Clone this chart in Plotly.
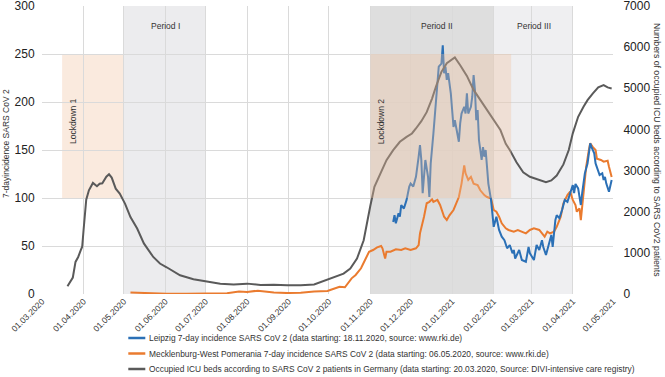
import plotly.graph_objects as go

# ---------------- data ----------------
icu_dates = ["2020-03-20","2020-03-22","2020-03-24","2020-03-26","2020-03-28","2020-03-30","2020-03-31",
             "2020-04-01","2020-04-02","2020-04-03","2020-04-05","2020-04-08","2020-04-11","2020-04-13",
             "2020-04-15","2020-04-18","2020-04-20","2020-04-22","2020-04-25","2020-04-28","2020-05-02",
             "2020-05-06","2020-05-11","2020-05-16","2020-05-23","2020-05-28","2020-06-02","2020-06-12",
             "2020-06-22","2020-07-02","2020-07-12","2020-07-22","2020-08-01","2020-08-11","2020-08-21",
             "2020-08-31","2020-09-10","2020-09-20","2020-09-30","2020-10-03","2020-10-12","2020-10-17",
             "2020-10-22","2020-10-27","2020-10-30","2020-11-01","2020-11-04","2020-11-08","2020-11-13",
             "2020-11-18","2020-11-23","2020-11-28","2020-12-02","2020-12-05","2020-12-09","2020-12-13",
             "2020-12-17","2020-12-20","2020-12-24","2020-12-28","2021-01-03","2021-01-07","2021-01-12",
             "2021-01-17","2021-01-22","2021-01-27","2021-02-01","2021-02-06","2021-02-10","2021-02-13",
             "2021-02-18","2021-02-23","2021-02-28","2021-03-05","2021-03-09","2021-03-12","2021-03-16",
             "2021-03-20","2021-03-25","2021-03-29","2021-04-01","2021-04-05","2021-04-09","2021-04-12",
             "2021-04-16","2021-04-20","2021-04-24","2021-04-27","2021-04-30"]
icu_values = [190,300,400,780,900,1070,1150,
              1550,1960,2290,2520,2700,2620,2680,
              2690,2850,2910,2830,2560,2440,2190,
              1870,1590,1230,900,740,650,455,
              357,308,252,233,252,219,226,
              210,210,233,350,380,495,616,
              860,1306,1833,2150,2604,2900,3253,
              3496,3699,3820,3901,4023,4200,4420,
              4750,5050,5400,5610,5750,5560,5300,
              4960,4720,4470,4250,3985,3650,3500,
              3200,2960,2850,2790,2750,2720,2760,
              2880,3150,3500,3905,4307,4550,4712,
              4875,5021,5078,5021,4997]

mv_dates = ["2020-05-06","2020-05-13","2020-05-23","2020-06-02","2020-06-17","2020-07-02","2020-07-17",
            "2020-07-26","2020-08-01","2020-08-09","2020-08-14","2020-08-21","2020-08-31","2020-09-10",
            "2020-09-20","2020-09-30","2020-10-02","2020-10-06","2020-10-09","2020-10-13","2020-10-15",
            "2020-10-18","2020-10-21","2020-10-25","2020-10-28","2020-10-31","2020-11-03","2020-11-06",
            "2020-11-09","2020-11-10","2020-11-12","2020-11-13","2020-11-16","2020-11-20","2020-11-24",
            "2020-11-27","2020-12-01","2020-12-05","2020-12-07","2020-12-08","2020-12-11","2020-12-13",
            "2020-12-15","2020-12-17","2020-12-18","2020-12-21","2020-12-23","2020-12-26","2020-12-28",
            "2020-12-30","2021-01-02","2021-01-04","2021-01-06","2021-01-08","2021-01-10","2021-01-11",
            "2021-01-13","2021-01-15","2021-01-17","2021-01-20","2021-01-22","2021-01-25","2021-01-27",
            "2021-01-30","2021-02-01","2021-02-03","2021-02-05","2021-02-07","2021-02-10","2021-02-12",
            "2021-02-16","2021-02-19","2021-02-22","2021-02-25","2021-02-28","2021-03-03","2021-03-07",
            "2021-03-09","2021-03-11","2021-03-13","2021-03-15","2021-03-18","2021-03-20","2021-03-23",
            "2021-03-25","2021-03-28","2021-03-30","2021-04-01","2021-04-03","2021-04-04","2021-04-06",
            "2021-04-07","2021-04-08","2021-04-10","2021-04-11","2021-04-13","2021-04-14","2021-04-16",
            "2021-04-18","2021-04-19","2021-04-22","2021-04-24","2021-04-27","2021-04-28","2021-04-30"]
mv_values = [1.5,1.2,0.5,0.3,0.3,0.3,0.8,
             2.5,2.0,3.5,2.8,1.5,1.0,1.3,
             2.5,3.2,4.2,5.9,7.6,7.0,11.0,
             16.3,19.8,26.8,35.4,44.0,45.8,48.6,
             50.0,47.6,37.0,44.0,44.0,46.5,45.8,
             47.6,45.8,47.6,51.0,63.2,80.5,94.5,
             96.0,98.6,96.0,98.0,92.7,80.5,77.0,
             82.0,87.5,94.5,101.0,115.0,134.0,125.7,
             118.8,122.0,115.0,113.5,108.0,103.0,101.0,
             99.7,87.5,85.7,80.5,73.6,68.4,66.7,
             65.0,66.7,65.0,63.2,66.7,68.4,66.7,
             63.2,59.7,65.0,63.2,65.0,70.0,80.5,
             94.5,103.0,106.6,98.0,92.7,85.7,89.3,
             77.0,91.0,115.0,132.6,150.0,157.0,153.0,
             150.0,141.0,139.6,137.8,138.9,132.6,122.0]

lp_dates = ["2020-11-18","2020-11-19","2020-11-20","2020-11-22","2020-11-23","2020-11-24","2020-11-26",
            "2020-11-28","2020-11-30","2020-12-01","2020-12-03","2020-12-05","2020-12-07","2020-12-08",
            "2020-12-09","2020-12-10","2020-12-12","2020-12-14","2020-12-15","2020-12-16","2020-12-18",
            "2020-12-19","2020-12-21","2020-12-22","2020-12-24","2020-12-25","2020-12-26","2020-12-27",
            "2020-12-28","2020-12-29","2020-12-31","2021-01-01","2021-01-02","2021-01-03","2021-01-05",
            "2021-01-06","2021-01-07","2021-01-08","2021-01-10","2021-01-11","2021-01-12","2021-01-13",
            "2021-01-15","2021-01-16","2021-01-17","2021-01-18","2021-01-19","2021-01-20","2021-01-21",
            "2021-01-23","2021-01-24","2021-01-25","2021-01-26","2021-01-27","2021-01-28","2021-01-30",
            "2021-01-31","2021-02-01","2021-02-03","2021-02-05","2021-02-07","2021-02-09","2021-02-11",
            "2021-02-13","2021-02-15","2021-02-16","2021-02-17","2021-02-20","2021-02-22","2021-02-25",
            "2021-02-27","2021-02-28","2021-03-03","2021-03-05","2021-03-07","2021-03-09","2021-03-10",
            "2021-03-12","2021-03-14","2021-03-16","2021-03-17","2021-03-19","2021-03-20","2021-03-22",
            "2021-03-24","2021-03-26","2021-03-28","2021-03-30","2021-04-01","2021-04-02","2021-04-03",
            "2021-04-05","2021-04-06","2021-04-07","2021-04-08","2021-04-09","2021-04-10","2021-04-12",
            "2021-04-13","2021-04-14","2021-04-15","2021-04-17","2021-04-18","2021-04-20","2021-04-21",
            "2021-04-23","2021-04-24","2021-04-25","2021-04-26","2021-04-28","2021-04-30"]
lp_values = [75,82,73.6,84,80.5,92.7,89,
             98,112,115,112,122,143,155,
             139.6,105,139.6,122,101,136,167,
             185,219.5,236.8,240,259,230,236.8,
             223,230,209,185,174,181,164,
             158.6,178,188,195,188,209,188,
             195,205.5,228,212.5,181,191.7,160.4,
             139.6,153,143,150,136,115,98,
             80.5,70,80.5,66.7,59.7,56,47.6,
             51,42.4,45.8,37,45.8,35.4,33.6,
             49,42.4,35.4,51,45.8,56,49,
             40.6,51,61.5,49,77,82,79,
             87.5,98,96,105,113.5,105,114.6,
             110,101,92.7,105,115,125.7,136,
             150,157,153,146.5,136,127.4,124,
             125.7,118.8,122,115,106.6,118.8]

legend_names = ["Leipzig 7-day incidence SARS CoV 2 (data starting: 18.11.2020, source: www.rki.de)",
                "Mecklenburg-West Pomerania 7-day incidence SARS CoV 2 (data starting: 06.05.2020, source: www.rki.de)",
                "Occupied ICU beds according to SARS CoV 2 patients in Germany (data starting: 20.03.2020, Source: DIVI-intensive care registry)"]

periods = [("Period I", "2020-05-01", "2020-07-01", "2020-06-01"),
           ("Period II", "2020-11-01", "2021-02-01", "2020-12-21"),
           ("Period III", "2021-02-01", "2021-04-01", "2021-03-03")]
lockdowns = [("Lockdown 1", "2020-03-16", "2020-05-01", "2020-03-24"),
             ("Lockdown 2", "2020-11-01", "2021-02-14", "2020-11-09")]

# ---------------- styles ----------------
FONT = "Liberation Sans, Arial, sans-serif"
C_BLUE = "#2b70b6"
C_ORANGE = "#ea7b2f"
C_GRAY = "#5a5a5a"
period_fill = ["#ececee", "#dedede", "#efeff1"]
lock_fill = "rgba(240,193,157,0.34)"

fig = go.Figure()
fig.add_trace(go.Scatter(x=icu_dates, y=icu_values, yaxis="y2", mode="lines",
                         line=dict(color=C_GRAY, width=2), name=legend_names[2], showlegend=False))
fig.add_trace(go.Scatter(x=mv_dates, y=mv_values, mode="lines",
                         line=dict(color=C_ORANGE, width=2), name=legend_names[1], showlegend=False))
fig.add_trace(go.Scatter(x=lp_dates, y=lp_values, mode="lines",
                         line=dict(color=C_BLUE, width=2), name=legend_names[0], showlegend=False))

shapes = []
annotations = []
for (label, x0, x1, xc), fc in zip(periods, period_fill):
    shapes.append(dict(type="rect", xref="x", yref="paper", x0=x0, x1=x1, y0=0, y1=1,
                       fillcolor=fc, line=dict(width=0), layer="below"))
    annotations.append(dict(x=xc, y=279, xref="x", yref="y", text=label, showarrow=False,
                            font=dict(size=8.5, color="#333333", family=FONT)))
for i, (label, x0, x1, xc) in enumerate(lockdowns):
    shapes.append(dict(type="rect", xref="x", yref="y", x0=x0, x1=x1, y0=100, y1=250,
                       fillcolor=lock_fill, line=dict(width=0),
                       layer="below" if i == 0 else "above"))
    annotations.append(dict(x=xc, y=180, xref="x", yref="y", text=label, showarrow=False,
                            textangle=-90, font=dict(size=8.5, color="#333333", family=FONT)))

# axis titles
annotations.append(dict(x=0, y=0.5226, xref="paper", yref="paper", xshift=-35.5, text="7-dayincidence SARS CoV 2",
                        showarrow=False, textangle=-90, xanchor="center", yanchor="middle",
                        font=dict(size=8.5, color="#333333", family=FONT)))
annotations.append(dict(x=1, y=0.5, xref="paper", yref="paper", xshift=44,
                        text="Numbers of occupied ICU beds according to SARS CoV2 patients",
                        showarrow=False, textangle=90, xanchor="center", yanchor="middle",
                        font=dict(size=8.7, color="#333333", family=FONT)))

# manual legend
leg_colors = [C_BLUE, C_ORANGE, C_GRAY]
leg_rows = [338, 353.5, 369]
for name, col, row in zip(legend_names, leg_colors, leg_rows):
    yp = (294 - row) / 288.0
    shapes.append(dict(type="line", xref="paper", yref="paper",
                       x0=(128 - 41.7) / 571.0, x1=(145 - 41.7) / 571.0, y0=yp, y1=yp,
                       line=dict(color=col, width=2.5)))
    annotations.append(dict(x=(147 - 41.7) / 571.0, y=yp, xref="paper", yref="paper", text=name,
                            showarrow=False, xanchor="left", yanchor="middle",
                            font=dict(size=8.4, color="#333333", family=FONT)))

fig.update_layout(
    width=665, height=377,
    margin=dict(l=42, r=52, t=6, b=83, autoexpand=False),
    paper_bgcolor="white", plot_bgcolor="white",
    font=dict(family=FONT, color="#333333"),
    shapes=shapes, annotations=annotations, showlegend=False,
    xaxis=dict(type="date", range=["2020-03-01", "2021-05-01"], tick0="2020-03-01", dtick="M1",
               tickformat="%d.%m.%Y", tickangle=-45, tickfont=dict(size=8.5, color="#333333"),
               showgrid=True, gridcolor="#dadada", gridwidth=1, zeroline=False, showline=False,
               ticks="", automargin=False, ticklabeloverflow="allow"),
    yaxis=dict(range=[0, 300], dtick=50, tickfont=dict(size=12, color="#222222"),
               showgrid=True, gridcolor="#dadada", gridwidth=1, zeroline=False, showline=False,
               ticks="outside", ticklen=4, tickcolor="rgba(0,0,0,0)", automargin=False,
               ticklabeloverflow="allow"),
    yaxis2=dict(range=[0, 7000], dtick=1000, overlaying="y", side="right",
                tickfont=dict(size=12, color="#222222"), showgrid=False, zeroline=False,
                showline=False, ticks="outside", ticklen=7, tickcolor="rgba(0,0,0,0)", automargin=False,
                ticklabeloverflow="allow"),
)

fig.write_html("out.html", config={"displayModeBar": False},
               post_script="document.body.style.margin='0';document.body.style.overflow='hidden';")
